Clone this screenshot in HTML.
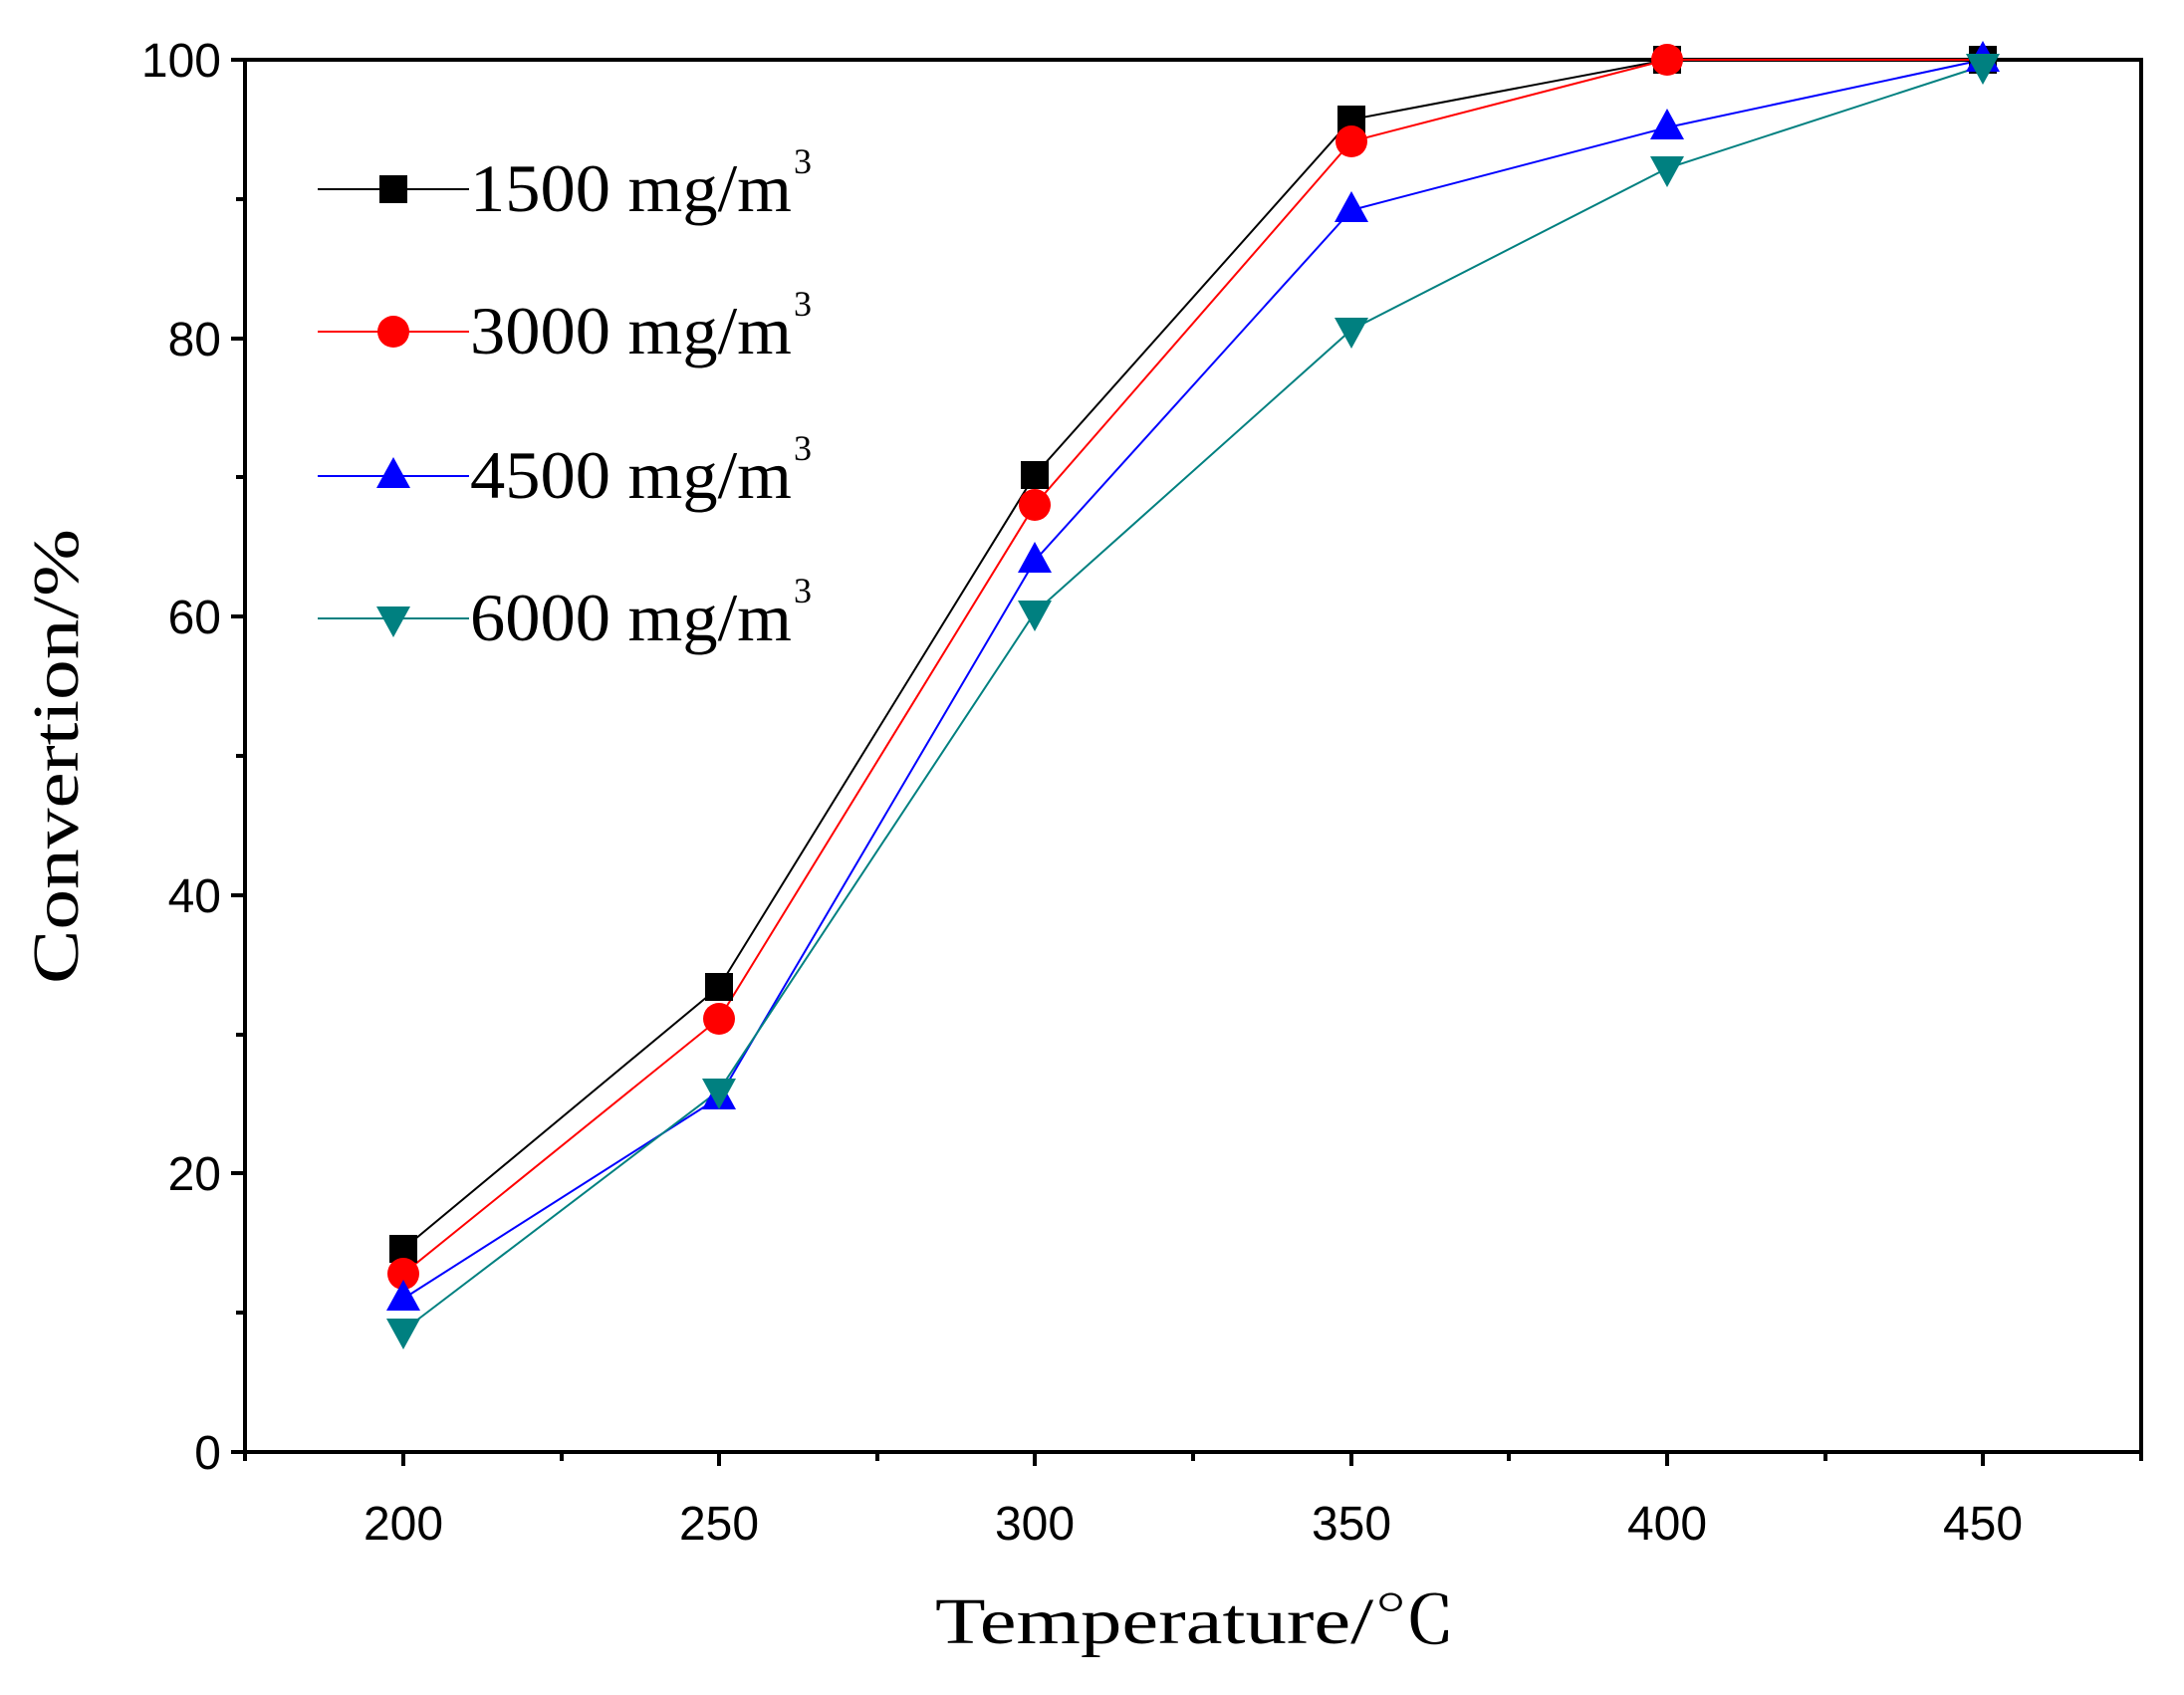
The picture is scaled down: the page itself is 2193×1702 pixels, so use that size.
<!DOCTYPE html>
<html><head><meta charset="utf-8"><style>body{margin:0;background:#fff}</style></head><body>
<svg width="2193" height="1697" viewBox="0 0 2193 1697" xmlns="http://www.w3.org/2000/svg">
<rect width="2193" height="1697" fill="#fff"/>
<g stroke="#000" stroke-width="4" fill="none">
<rect x="246" y="60" width="1904" height="1398"/>
<path d="M246 1458v9M405 1458v14M564 1458v9M722 1458v14M881 1458v9M1039 1458v14M1198 1458v9M1357 1458v14M1515 1458v9M1674 1458v14M1833 1458v9M1991 1458v14M2150 1458v9"/>
<path d="M246 1458h-14M246 1318h-9M246 1178h-14M246 1039h-9M246 899h-14M246 759h-9M246 619h-14M246 479h-9M246 340h-14M246 200h-9M246 60h-14"/>
</g>
<g font-family="Liberation Sans, sans-serif" font-size="48" text-anchor="middle">
<text x="405" y="1546">200</text><text x="722" y="1546">250</text><text x="1039" y="1546">300</text><text x="1357" y="1546">350</text><text x="1674" y="1546">400</text><text x="1991" y="1546">450</text>
</g>
<g font-family="Liberation Sans, sans-serif" font-size="48" text-anchor="end">
<text x="222" y="1475">0</text><text x="222" y="1195">20</text><text x="222" y="916">40</text><text x="222" y="636">60</text><text x="222" y="357">80</text><text x="222" y="77">100</text>
</g>
<g fill="none" stroke-width="2">
<polyline stroke="#000" points="405,1254 722,991 1039,477 1357,120 1674,60 1991,60"/>
<polyline stroke="#f00" points="405,1279 722,1023 1039,507 1357,142 1674,60 1991,60"/>
<polyline stroke="#00f" points="405,1304 722,1102 1039,563 1357,211 1674,128 1991,60"/>
<polyline stroke="#008080" points="405,1336 722,1095 1039,615 1357,331 1674,169 1991,66"/>
</g>
<g fill="#000"><rect x="391" y="1240" width="28" height="28"/><rect x="708" y="977" width="28" height="28"/><rect x="1025" y="463" width="28" height="28"/><rect x="1343" y="106" width="28" height="28"/><rect x="1660" y="46" width="28" height="28"/><rect x="1977" y="46" width="28" height="28"/></g>
<g fill="#f00"><circle cx="405" cy="1279" r="16"/><circle cx="722" cy="1023" r="16"/><circle cx="1039" cy="507" r="16"/><circle cx="1357" cy="142" r="16"/><circle cx="1674" cy="60" r="16"/></g>
<g fill="#00f">
<path d="M405 1285l17 31h-34z"/><path d="M722 1083l17 31h-34z"/><path d="M1039 544l17 31h-34z"/><path d="M1357 192l17 31h-34z"/><path d="M1674 109l17 31h-34z"/><path d="M1991 41l17 31h-34z"/></g>
<g fill="#008080">
<path d="M388 1324h34l-17 31z"/><path d="M705 1083h34l-17 31z"/><path d="M1022 603h34l-17 31z"/><path d="M1340 319h34l-17 31z"/><path d="M1657 157h34l-17 31z"/><path d="M1974 54h34l-17 31z"/></g>
<g stroke-width="2">
<line x1="319" y1="190" x2="471" y2="190" stroke="#000"/>
<line x1="319" y1="333" x2="471" y2="333" stroke="#f00"/>
<line x1="319" y1="478" x2="471" y2="478" stroke="#00f"/>
<line x1="319" y1="621" x2="471" y2="621" stroke="#008080"/>
</g>
<rect x="381" y="176" width="28" height="28"/>
<circle cx="395" cy="333" r="16" fill="#f00"/>
<path d="M395 459l17 31h-34z" fill="#00f"/>
<path d="M378 609h34l-17 31z" fill="#008080"/>
<g font-family="Liberation Serif, serif" font-size="68">
<text x="472" y="212" textLength="323" lengthAdjust="spacingAndGlyphs">1500 mg/m</text><text x="797" y="174" font-size="36">3</text>
<text x="472" y="355" textLength="323" lengthAdjust="spacingAndGlyphs">3000 mg/m</text><text x="797" y="317" font-size="36">3</text>
<text x="472" y="500" textLength="323" lengthAdjust="spacingAndGlyphs">4500 mg/m</text><text x="797" y="462" font-size="36">3</text>
<text x="472" y="643" textLength="323" lengthAdjust="spacingAndGlyphs">6000 mg/m</text><text x="797" y="605" font-size="36">3</text>
</g>
<text x="939" y="1650" font-family="Liberation Serif, 'Noto Serif CJK SC', serif" font-size="66" textLength="523" lengthAdjust="spacingAndGlyphs">Temperature/℃</text>
<text transform="translate(78,988) rotate(-90)" font-family="Liberation Serif, serif" font-size="66" textLength="457" lengthAdjust="spacingAndGlyphs">Convertion/%</text>
</svg>
</body></html>
